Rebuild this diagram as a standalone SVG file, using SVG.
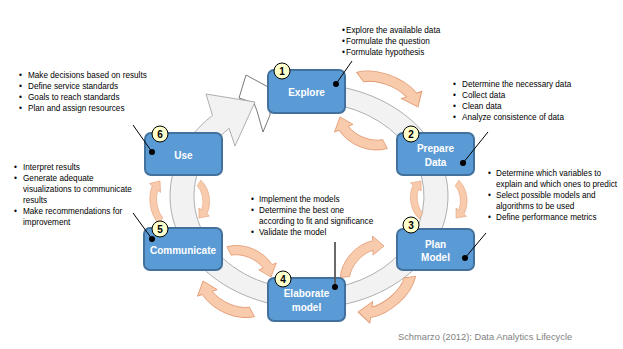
<svg xmlns="http://www.w3.org/2000/svg" xmlns:xlink="http://www.w3.org/1999/xlink" width="623" height="349" viewBox="0 0 623 349">
  <style>
    .box{fill:#5B9BD5;stroke:#41719C;stroke-width:2}
    .lbl{font-family:"Liberation Sans",Arial,sans-serif;font-weight:bold;font-size:10px;fill:#FFFFFF;text-anchor:middle}
    .badge{fill:#FFFFCC;stroke:#000000;stroke-width:1}
    .num{font-family:"Liberation Sans",Arial,sans-serif;font-weight:bold;font-size:10px;fill:#000000;text-anchor:middle}
    .note{font-family:"Liberation Sans",Arial,sans-serif;font-size:8.2px;fill:#000000}
    .ring{fill:#F2F2F2;stroke:#A6A6A6;stroke-width:0.9}
    .turn{fill:#F8CBAD;stroke:#E39A72;stroke-width:0.8}
    .lead{stroke:#000000;stroke-width:1;fill:none}
    .dot{fill:#000000}
    .cap{font-family:"Liberation Sans",Arial,sans-serif;font-size:9.3px;fill:#7F7F7F}
  </style>
  <defs>
    <!-- curved arrow, chord normalised to run from (-26.25,0) to (26.25,0), bulging upward -->
    <path id="turn" class="turn" transform="rotate(-8.4) translate(-3,9.02)"
          d="M-26.8,-16.07 A35,25 0 0 1 24.75,-17.68 L28.28,-21.21 L28.98,-5.18 L14.14,-7.07 L17.68,-10.61 A25,15 0 0 0 -19.15,-9.64 Z"/>
  </defs>

  <!-- main lifecycle loop with its head and the small turning arrows -->
  <g id="connectors">
    <polygon points="239,98 246,75 270,88 270,115 263,132 257,111 254,103" fill="#FFFFFF" stroke="#404040" stroke-width="0.7"/>
    <path class="ring" d="M212.44,115.44 A139,112 0 1 0 284.87,85.70 L289.03,103.43 A115,94 0 1 1 229.11,128.39 L235,146 L255,102 L206,94 Z"/>
    <use xlink:href="#turn" transform="translate(389,92) rotate(27.35) scale(1.24,1.0)"/>
    <use xlink:href="#turn" transform="translate(362.5,130.5) rotate(211)"/>
    <use xlink:href="#turn" transform="translate(456.5,200.5) rotate(91.6) scale(0.667)"/>
    <use xlink:href="#turn" transform="translate(421,198.5) rotate(-90) scale(0.667)"/>
    <use xlink:href="#turn" transform="translate(160.5,201) rotate(-91.4) scale(0.76,0.67)"/>
    <use xlink:href="#turn" transform="translate(199,200.5) rotate(90) scale(0.667)"/>
    <use xlink:href="#turn" transform="translate(364.5,261.5) rotate(-38.5) scale(0.95)"/>
    <use xlink:href="#turn" transform="translate(384,294.5) rotate(146.1) scale(1.19,1.0)"/>
    <use xlink:href="#turn" transform="translate(250,264) rotate(31.8) scale(0.94)"/>
    <use xlink:href="#turn" transform="translate(227.5,296.5) rotate(-147.7) scale(1.1,1.0)"/>
  </g>

  <!-- stages -->
  <g id="explore">
    <rect class="box" x="268" y="70" width="77" height="43" rx="6"/>
    <text class="lbl" x="306.5" y="96">Explore</text>
    <circle class="badge" cx="282" cy="71" r="8"/>
    <text class="num" x="282" y="74.5">1</text>
  </g>
  <g id="prepare">
    <rect class="box" x="397" y="133" width="77" height="42" rx="6"/>
    <text class="lbl" x="435.5" y="152">Prepare</text>
    <text class="lbl" x="435.5" y="166">Data</text>
    <circle class="badge" cx="411" cy="134" r="8"/>
    <text class="num" x="411" y="137.5">2</text>
  </g>
  <g id="plan">
    <rect class="box" x="397" y="229" width="77" height="41" rx="6"/>
    <text class="lbl" x="435.5" y="248">Plan</text>
    <text class="lbl" x="435.5" y="261">Model</text>
    <circle class="badge" cx="411" cy="225" r="8"/>
    <text class="num" x="411" y="228.5">3</text>
  </g>
  <g id="elaborate">
    <rect class="box" x="268" y="278" width="77" height="43" rx="6"/>
    <text class="lbl" x="306.5" y="297">Elaborate</text>
    <text class="lbl" x="306.5" y="311">model</text>
    <circle class="badge" cx="283" cy="279" r="8"/>
    <text class="num" x="283" y="282.5">4</text>
  </g>
  <g id="communicate">
    <rect class="box" x="144" y="228" width="78" height="42" rx="6"/>
    <text class="lbl" x="183" y="254">Communicate</text>
    <circle class="badge" cx="160" cy="229" r="8"/>
    <text class="num" x="160" y="232.5">5</text>
  </g>
  <g id="use">
    <rect class="box" x="145" y="133" width="77" height="42" rx="6"/>
    <text class="lbl" x="183.5" y="159">Use</text>
    <circle class="badge" cx="160" cy="134" r="8"/>
    <text class="num" x="160" y="137.5">6</text>
  </g>

  <!-- leader lines from the notes to the stages -->
  <g id="callouts">
    <line class="lead" x1="352" y1="61" x2="336" y2="84"/><circle class="dot" cx="336" cy="84" r="3"/>
    <line class="lead" x1="488" y1="132" x2="463" y2="163"/><circle class="dot" cx="463" cy="163" r="3"/>
    <line class="lead" x1="486" y1="233" x2="465" y2="258"/><circle class="dot" cx="465" cy="258" r="3"/>
    <line x1="335" y1="242" x2="335" y2="287" stroke="#595959" stroke-width="1.8"/><circle class="dot" cx="335" cy="287" r="3"/>
    <line class="lead" x1="133" y1="213" x2="152" y2="239"/><circle class="dot" cx="152" cy="239" r="3"/>
    <line class="lead" x1="133" y1="125" x2="152" y2="152"/><circle class="dot" cx="152" cy="152" r="3"/>
  </g>

  <!-- notes -->
  <g id="notes">
    <g class="note">
      <text x="342" y="33">•</text><text x="346" y="33">Explore the available data</text>
      <text x="342" y="44">•</text><text x="346" y="44">Formulate the question</text>
      <text x="342" y="55">•</text><text x="346" y="55">Formulate hypothesis</text>
    </g>
    <g class="note">
      <text x="453" y="87">•</text><text x="462" y="87">Determine the necessary data</text>
      <text x="453" y="98">•</text><text x="462" y="98">Collect data</text>
      <text x="453" y="109">•</text><text x="462" y="109">Clean data</text>
      <text x="453" y="120">•</text><text x="462" y="120">Analyze consistence of data</text>
    </g>
    <g class="note">
      <text x="488" y="176">•</text><text x="496" y="176">Determine which variables to</text>
      <text x="496" y="187">explain and which ones to predict</text>
      <text x="488" y="198">•</text><text x="496" y="198">Select possible models and</text>
      <text x="496" y="209">algorithms to be used</text>
      <text x="488" y="220">•</text><text x="496" y="220">Define performance metrics</text>
    </g>
    <g class="note">
      <text x="251" y="202">•</text><text x="259" y="202">Implement the models</text>
      <text x="251" y="213">•</text><text x="259" y="213">Determine the best one</text>
      <text x="259" y="224">according to fit and significance</text>
      <text x="251" y="235">•</text><text x="259" y="235">Validate the model</text>
    </g>
    <g class="note">
      <text x="14" y="170">•</text><text x="23" y="170">Interpret results</text>
      <text x="14" y="181">•</text><text x="23" y="181">Generate adequate</text>
      <text x="23" y="192">visualizations to communicate</text>
      <text x="23" y="203">results</text>
      <text x="14" y="214">•</text><text x="23" y="214">Make recommendations for</text>
      <text x="23" y="225">improvement</text>
    </g>
    <g class="note">
      <text x="19" y="78">•</text><text x="28" y="78">Make decisions based on results</text>
      <text x="19" y="89">•</text><text x="28" y="89">Define service standards</text>
      <text x="19" y="100">•</text><text x="28" y="100">Goals to reach standards</text>
      <text x="19" y="111">•</text><text x="28" y="111">Plan and assign resources</text>
    </g>
  </g>

  <text class="cap" x="398" y="340">Schmarzo (2012): Data Analytics Lifecycle</text>
</svg>
